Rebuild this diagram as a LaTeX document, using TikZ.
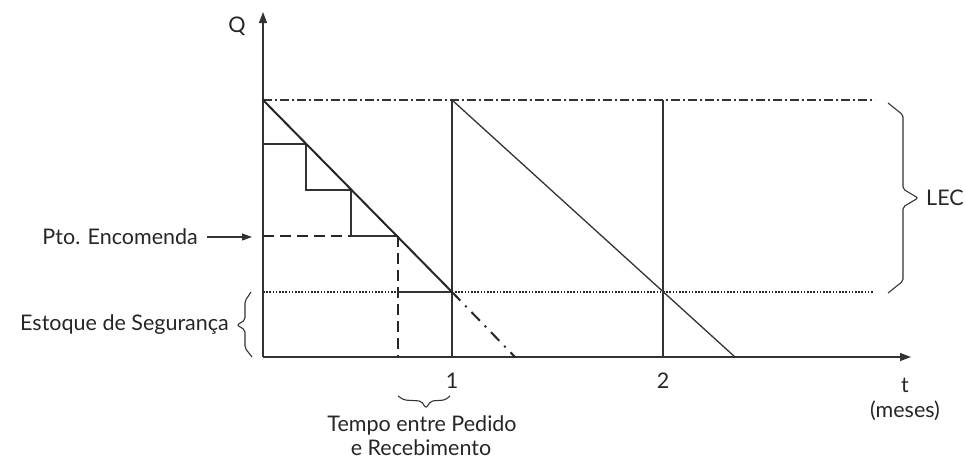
\documentclass[tikz,border=0pt]{standalone}
\usepackage{fontspec}
\setmainfont{Lato}
\usetikzlibrary{arrows.meta}
\begin{document}
\begin{tikzpicture}[x=1pt,y=-1pt,
  thinline/.style={line width=1.1pt, draw=black!80},
  thickline/.style={line width=2pt, draw=black!85},
  axisline/.style={line width=1.3pt, draw=black!80, -{Triangle[length=11pt,width=8pt]}},
  dashdotline/.style={line width=1.2pt, draw=black!80, dash pattern=on 9pt off 3pt on 2pt off 3pt},
  dashdotthick/.style={line width=2pt, draw=black!85, dash pattern=on 12pt off 7pt on 2pt off 7pt},
  dottedline/.style={line width=1.6pt, draw=black!85, dash pattern=on 1.6pt off 1.6pt},
  dashedline/.style={line width=1.8pt, draw=black!85, dash pattern=on 11pt off 6pt},
  bracestyle/.style={line width=1.1pt, draw=black!80, rounded corners=2pt},
  lbl/.style={font=\fontsize{21.5}{25}\selectfont, inner sep=0pt, text=black!85}]
\useasboundingbox (0,0) rectangle (965,461);
% key points
\coordinate (O) at (263,357);
\coordinate (Ytip) at (263,12);
\coordinate (Xtip) at (911,357);
\coordinate (A) at (263,100);
\coordinate (Aend) at (875,100);
\coordinate (B) at (452,292);
\coordinate (Btop) at (452,100);
\coordinate (Bbot) at (452,357);
\coordinate (C) at (663,292);
\coordinate (Ctop) at (663,100);
\coordinate (Cbot) at (663,357);
\coordinate (D) at (735,357);
\coordinate (E) at (515,357);
\coordinate (SS) at (263,292);
\coordinate (SSend) at (874,292);
\coordinate (S1) at (263,144);
\coordinate (S2) at (306,144);
\coordinate (S3) at (306,190);
\coordinate (S4) at (351,190);
\coordinate (S5) at (351,236);
\coordinate (R) at (398,236);
\coordinate (R0) at (398,357);
\coordinate (P) at (263,236);
\coordinate (T) at (399,292);
% axes
\draw[axisline] (O) -- (Ytip);
\draw[axisline] (O) -- (Xtip);
% reference lines
\draw[dashdotline] (A) -- (Aend);
\draw[dottedline] (SS) -- (SSend);
\draw[thinline] (Btop) -- (Bbot);
\draw[thinline] (Ctop) -- (Cbot);
% reorder point dashed
\draw[dashedline] (P) -- (S5);
\draw[dashedline] (R) -- (R0);
% staircase
\draw[thinline, line width=1.6pt] (S1) -- (S2) -- (S3) -- (S4) -- (S5) -- (R);
\draw[thinline, line width=1.6pt] (T) -- (B);
% sawtooth
\draw[thickline] (A) -- (B);
\draw[dashdotthick] (B) -- (E);
\draw[thinline, line width=1.3pt] (Btop) -- (D);
% labels
\node[lbl] (q) at (237,26) {Q};
\node[lbl, anchor=east] (pto) at (198,237) {Pto. Encomenda};
\coordinate (ptostart) at (207,237);
\coordinate (ptoarrow) at (252,237);
\draw[line width=1.2pt, draw=black!80, -{Triangle[length=10pt,width=7pt]}] (ptostart) -- (ptoarrow);
\node[lbl, anchor=east] (est) at (229,325) {Estoque de Segurança};
% brace for Estoque de Seguranca
\draw[bracestyle] (251,292) -- (245,301) -- (245,320) -- (237,325) -- (245,330) -- (245,348) -- (252,357);
% brace for LEC
\draw[bracestyle] (888,103) -- (903,115) -- (903,189) -- (918,198) -- (903,207) -- (903,281) -- (888,293);
\node[lbl, anchor=west] (lec) at (926,198) {LEC};
\node[lbl] (one) at (452,381) {1};
\node[lbl] (two) at (663,381) {2};
% brace for Tempo
\draw[bracestyle] (398,396) -- (404,400) -- (421,401) -- (426,408) -- (431,401) -- (445,400) -- (450,396);
\node[lbl, anchor=base] (tempo1) at (422,431) {Tempo entre Pedido};
\node[lbl, anchor=base] (tempo2) at (421,455) {e Recebimento};
\node[lbl] (t) at (905,385) {t};
\node[lbl] (meses) at (905,411) {(meses)};
\end{tikzpicture}
\end{document}
